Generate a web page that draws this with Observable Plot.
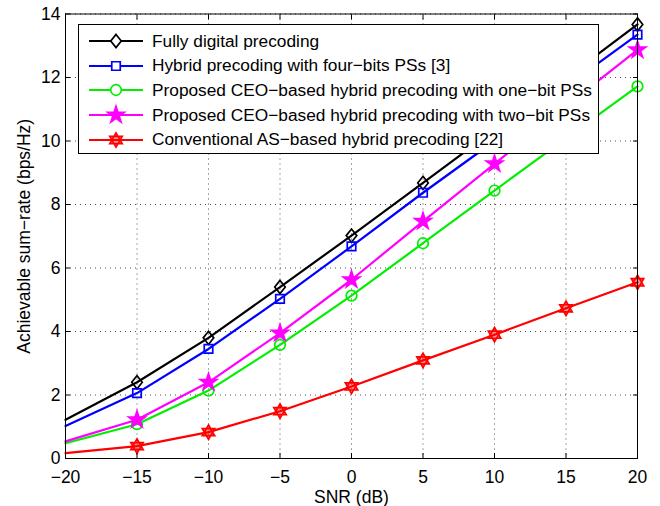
<!DOCTYPE html>
<html>
<head>
<meta charset="utf-8">
<script src="https://cdn.jsdelivr.net/npm/d3@7"></script>
<script src="https://cdn.jsdelivr.net/npm/@observablehq/plot@0.6"></script>
<style>
  body { margin: 0; background: #fff; }
  #wrap { position: relative; width: 660px; height: 506px; font-family: "Liberation Sans", Arial, sans-serif; }
  #legend { position: absolute; left: 78px; top: 24px; width: 521px; height: 130px; background: #fff; border: 1px solid #000; box-sizing: border-box; }
  .row { position: absolute; left: 0; height: 24px; display: flex; align-items: center; font-size: 17.3px; color: #000; white-space: nowrap; }
  .row svg { margin-left: 10px; margin-right: 9px; }
</style>
</head>
<body>
<div id="wrap"></div>
<script>
const snr = [-20, -15, -10, -5, 0, 5, 10, 15, 20];
const fullyDigital = [1.22, 2.40, 3.80, 5.40, 7.02, 8.68, 10.35, 11.98, 13.67];
const fourBit = [1.02, 2.06, 3.45, 5.03, 6.68, 8.37, 10.0, 11.71, 13.35];
const oneBit = [0.48, 1.08, 2.14, 3.58, 5.13, 6.78, 8.44, 10.08, 11.72];
const twoBit = [0.54, 1.22, 2.40, 3.95, 5.63, 7.47, 9.28, 11.10, 12.87];
const asBased = [0.17, 0.39, 0.83, 1.49, 2.27, 3.09, 3.90, 4.73, 5.55];
const xTicks = [-20, -15, -10, -5, 0, 5, 10, 15, 20];
const yTicks = [0, 2, 4, 6, 8, 10, 12, 14];
const seriesNames = [
  "Fully digital precoding",
  "Hybrid precoding with four\u2212bits PSs [3]",
  "Proposed CEO\u2212based hybrid precoding with one\u2212bit PSs",
  "Proposed CEO\u2212based hybrid precoding with two\u2212bit PSs",
  "Conventional AS\u2212based hybrid precoding [22]"
];
const seriesColors = ["#000000", "#0000ff", "#00ee00", "#ff00ff", "#ff0000"];

const hexagram = {
  draw(ctx, size) {
    const r = Math.sqrt(size) * 0.62;
    for (const off of [-Math.PI / 2, Math.PI / 2]) {
      for (let i = 0; i < 3; i++) {
        const a = off + i * 2 * Math.PI / 3;
        const x = r * Math.cos(a), y = r * Math.sin(a);
        if (i === 0) ctx.moveTo(x, y); else ctx.lineTo(x, y);
      }
      ctx.closePath();
    }
  }
};
const matDiamond = {
  draw(ctx, size) {
    const h = Math.sqrt(size) * 0.62, w = h * 0.8;
    ctx.moveTo(0, -h); ctx.lineTo(w, 0); ctx.lineTo(0, h); ctx.lineTo(-w, 0); ctx.closePath();
  }
};
const markerSpecs = [
  {symbol: matDiamond, r: 6, fill: "none"},
  {symbol: d3.symbolSquare, r: 4.8, fill: "none"},
  {symbol: d3.symbolCircle, r: 5.3, fill: "none"},
  {symbol: d3.symbolStar, r: 5.2, fill: "#ff00ff"},
  {symbol: hexagram, r: 6.5, fill: "rgba(255,0,0,0.4)"}
];

const allValues = [fullyDigital, fourBit, oneBit, twoBit, asBased];
const rows = [];
allValues.forEach((vals, s) => snr.forEach((x, i) => rows.push({series: s, x, y: vals[i]})));

const marks = [
  Plot.gridX(xTicks, {stroke: "#000", strokeOpacity: 0.7, strokeDasharray: "1,4", strokeWidth: 1}),
  Plot.gridY(yTicks, {stroke: "#000", strokeOpacity: 0.7, strokeDasharray: "1,4", strokeWidth: 1}),
];
allValues.forEach((vals, s) => {
  const data = rows.filter(d => d.series === s);
  marks.push(Plot.line(data, {x: "x", y: "y", stroke: seriesColors[s], strokeWidth: 2.2}));
  const m = markerSpecs[s];
  marks.push(Plot.dot(data.filter(d => d.x > -20), {x: "x", y: "y", symbol: () => m.symbol, r: m.r, stroke: seriesColors[s], fill: m.fill, strokeWidth: 1.7}));
});
marks.push(
  Plot.frame({stroke: "#000", strokeWidth: 1}),
  Plot.axisX(xTicks, {anchor: "bottom", tickSize: -5, tickPadding: 17, tickFormat: d => d < 0 ? "\u2212" + Math.abs(d) : String(d), label: "SNR (dB)", labelAnchor: "center", labelArrow: "none", labelOffset: 44, fontSize: 17.5}),
  Plot.axisX(xTicks, {anchor: "top", tickSize: -5, tickFormat: () => "", label: null}),
  Plot.axisY(yTicks, {anchor: "left", tickSize: -5, tickPadding: 10, label: "Achievable sum\u2212rate (bps/Hz)", labelAnchor: "center", labelArrow: "none", labelOffset: 48, fontSize: 17.5}),
  Plot.axisY(yTicks, {anchor: "right", tickSize: -5, tickFormat: () => "", label: null})
);

const chart = Plot.plot({
  width: 660,
  height: 506,
  marginLeft: 65,
  marginRight: 23,
  marginTop: 13.5,
  marginBottom: 48,
  style: {fontFamily: "'Liberation Sans', Arial, sans-serif", fontSize: "17.5px", color: "#000", background: "#fff"},
  x: {domain: [-20, 20]},
  y: {domain: [0, 14]},
  marks
});
const wrap = document.getElementById("wrap");
wrap.appendChild(chart);

// Legend
const legend = document.createElement("div");
legend.id = "legend";
seriesNames.forEach((name, s) => {
  const row = document.createElement("div");
  row.className = "row";
  row.style.top = (4 + s * 24.7) + "px";
  const sw = d3.create("svg").attr("width", 54).attr("height", 24);
  sw.append("line").attr("x1", 0).attr("x2", 54).attr("y1", 12).attr("y2", 12).attr("stroke", seriesColors[s]).attr("stroke-width", 2.2);
  const m = markerSpecs[s];
  sw.append("path").attr("transform", "translate(27,12)").attr("d", d3.symbol(m.symbol, Math.PI * m.r * m.r)())
    .attr("stroke", seriesColors[s]).attr("fill", m.fill === "none" ? "#fff" : m.fill).attr("stroke-width", 1.7);
  row.appendChild(sw.node());
  const t = document.createElement("span");
  t.textContent = name;
  row.appendChild(t);
  legend.appendChild(row);
});
wrap.appendChild(legend);
</script>
</body>
</html>
